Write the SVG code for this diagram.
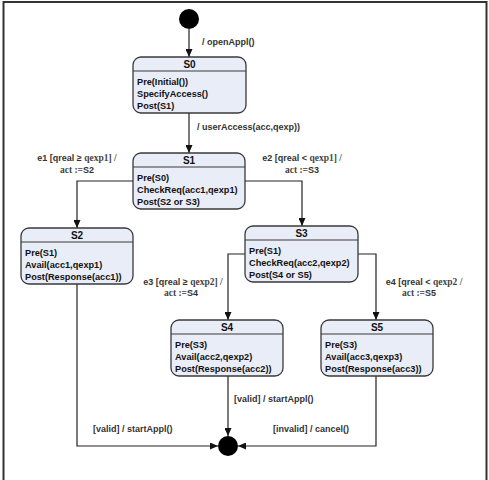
<svg xmlns="http://www.w3.org/2000/svg" width="489" height="480" viewBox="0 0 489 480">
<defs>
<marker id="arr" markerWidth="8" markerHeight="7" refX="8" refY="3.5" orient="auto" markerUnits="userSpaceOnUse">
<path d="M0,0 L8,3.5 L0,7 z" fill="#111"/>
</marker>
<style>
.box{fill:#e9edf8;stroke:#3a3a3a;stroke-width:1.3}
.div{stroke:#3a3a3a;stroke-width:1.1}
.ttl{font-family:"Liberation Sans",Arial,sans-serif;font-weight:bold;font-size:10px;fill:#111;text-anchor:middle}
.body{font-family:"Liberation Sans",Arial,sans-serif;font-weight:bold;font-size:9.2px;fill:#111}
.lbl{font-family:"Liberation Sans",Arial,sans-serif;font-weight:bold;font-size:9px;fill:#333}
.ser{font-family:"Liberation Serif","Times New Roman",serif;font-weight:bold;font-size:9.5px;fill:#444}
.con{fill:none;stroke:#222;stroke-width:1.2}
</style>
</defs>
<rect x="0" y="0" width="489" height="480" fill="#fff"/>
<path d="M3.5,480 V2 H486.5 V480" fill="none" stroke="#333" stroke-width="2"/>

<g id="connectors">
<path class="con" d="M189,29 V57" marker-end="url(#arr)"/>
<path class="con" d="M189,113 V153" marker-end="url(#arr)"/>
<path class="con" d="M133,181 H77 V228" marker-end="url(#arr)"/>
<path class="con" d="M245,181 H302 V226" marker-end="url(#arr)"/>
<path class="con" d="M245,254 H228 V320" marker-end="url(#arr)"/>
<path class="con" d="M358,254 H376 V320" marker-end="url(#arr)"/>
<path class="con" d="M228,376 V436" marker-end="url(#arr)"/>
<path class="con" d="M376,376 V446 H238" marker-end="url(#arr)"/>
<path class="con" d="M77,284 V446 H218" marker-end="url(#arr)"/>
<text class="lbl" x="202" y="45">/ openAppl()</text>
<text class="lbl" x="197" y="130">/ userAccess(acc,qexp))</text>
<text class="lbl" x="77" y="161" text-anchor="middle">e1 [qreal ≥ <tspan class="ser">qexp1] /</tspan></text>
<text class="lbl" x="77" y="173" text-anchor="middle"><tspan class="ser">act :=</tspan>S2</text>
<text class="lbl" x="302" y="161" text-anchor="middle">e2 [qreal &lt; <tspan class="ser">qexp1] /</tspan></text>
<text class="lbl" x="302" y="173" text-anchor="middle"><tspan class="ser">act :=</tspan>S3</text>
<text class="lbl" x="183" y="285" text-anchor="middle">e3 [qreal ≥ <tspan class="ser">qexp2] /</tspan></text>
<text class="lbl" x="181" y="296" text-anchor="middle"><tspan class="ser">act :=</tspan>S4</text>
<text class="lbl" x="424" y="285" text-anchor="middle">e4 [qreal &lt; <tspan class="ser">qexp2 /</tspan></text>
<text class="lbl" x="419" y="296" text-anchor="middle"><tspan class="ser">act :=</tspan>S5</text>
<text class="lbl" x="234" y="402">[valid] / startAppl()</text>
<text class="lbl" x="273" y="432">[invalid] / cancel()</text>
<text class="lbl" x="93" y="432">[valid] / startAppl()</text>
</g>

<g id="initial"><circle cx="189" cy="19" r="10" fill="#000"/></g>
<g id="final"><circle cx="228" cy="446" r="10" fill="#000"/></g>

<g id="S0">
<rect class="box" x="133" y="57" width="113" height="56" rx="8"/>
<line class="div" x1="133" y1="71" x2="246" y2="71"/>
<text class="ttl" x="189.5" y="68">S0</text>
<text class="body" x="137" y="85">Pre(Initial())</text>
<text class="body" x="137" y="97">SpecifyAccess()</text>
<text class="body" x="137" y="109">Post(S1)</text>
</g>

<g id="S1">
<rect class="box" x="133" y="153" width="112" height="56" rx="8"/>
<line class="div" x1="133" y1="167" x2="245" y2="167"/>
<text class="ttl" x="189" y="164">S1</text>
<text class="body" x="137" y="181">Pre(S0)</text>
<text class="body" x="137" y="193">CheckReq(acc1,qexp1)</text>
<text class="body" x="137" y="205">Post(S2 or S3)</text>
</g>

<g id="S2">
<rect class="box" x="21" y="228" width="112" height="56" rx="8"/>
<line class="div" x1="21" y1="242" x2="133" y2="242"/>
<text class="ttl" x="77" y="239">S2</text>
<text class="body" x="25" y="256">Pre(S1)</text>
<text class="body" x="25" y="268">Avail(acc1,qexp1)</text>
<text class="body" x="25" y="280">Post(Response(acc1))</text>
</g>

<g id="S3">
<rect class="box" x="245" y="226" width="113" height="56" rx="8"/>
<line class="div" x1="245" y1="240" x2="358" y2="240"/>
<text class="ttl" x="301.5" y="237">S3</text>
<text class="body" x="249" y="254">Pre(S1)</text>
<text class="body" x="249" y="266">CheckReq(acc2,qexp2)</text>
<text class="body" x="249" y="278">Post(S4 or S5)</text>
</g>

<g id="S4">
<rect class="box" x="171" y="320" width="112" height="56" rx="8"/>
<line class="div" x1="171" y1="334" x2="283" y2="334"/>
<text class="ttl" x="227" y="331">S4</text>
<text class="body" x="175" y="348">Pre(S3)</text>
<text class="body" x="175" y="360">Avail(acc2,qexp2)</text>
<text class="body" x="175" y="372">Post(Response(acc2))</text>
</g>

<g id="S5">
<rect class="box" x="321" y="320" width="112" height="56" rx="8"/>
<line class="div" x1="321" y1="334" x2="433" y2="334"/>
<text class="ttl" x="377" y="331">S5</text>
<text class="body" x="325" y="348">Pre(S3)</text>
<text class="body" x="325" y="360">Avail(acc3,qexp3)</text>
<text class="body" x="325" y="372">Post(Response(acc3))</text>
</g>
</svg>
